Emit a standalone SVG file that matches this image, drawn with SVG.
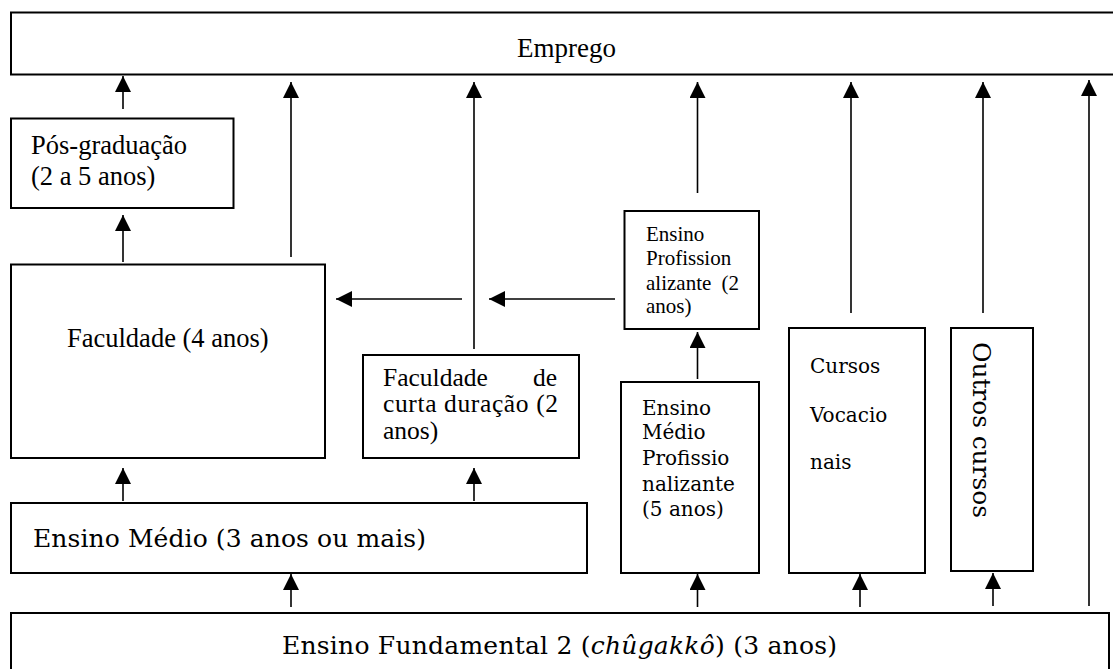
<svg xmlns="http://www.w3.org/2000/svg" width="1113" height="669" viewBox="0 0 1113 669">
<style>
.box{fill:#fff;stroke:#000;stroke-width:2}
.arr{stroke:#000;stroke-width:1.6;fill:none;marker-end:url(#ah)}
</style>
<defs>
<marker id="ah" markerUnits="userSpaceOnUse" markerWidth="16" markerHeight="16" refX="15" refY="7.5" orient="auto" viewBox="0 0 15 15">
<path d="M0,0 L15,7.5 L0,15 z" fill="#000"/>
</marker>
</defs>
<rect width="1113" height="669" fill="#fff"/>

<g id="emprego">
<rect class="box" x="11" y="12.5" width="1110" height="62"/>
<text font-family="Liberation Serif, Times New Roman, serif" x="517" y="57" font-size="27">Emprego</text>
</g>

<g id="pos-graduacao" font-family="Liberation Serif, Times New Roman, serif" font-size="26.5">
<rect class="box" x="11" y="118.5" width="222.5" height="89.5"/>
<text><tspan x="31" y="154">Pós-graduação</tspan><tspan x="31" y="185">(2 a 5 anos)</tspan></text>
</g>

<g id="faculdade" font-family="Liberation Serif, Times New Roman, serif" font-size="26.5">
<rect class="box" x="11" y="264.5" width="314" height="193.5"/>
<text x="67" y="347">Faculdade (4 anos)</text>
</g>

<g id="faculdade-curta" font-family="Liberation Serif, Times New Roman, serif" font-size="25.5">
<rect class="box" x="363" y="355" width="216" height="103"/>
<text><tspan x="383" y="385.5">Faculdade</tspan><tspan x="533" y="385.5">de</tspan><tspan x="383" y="412" textLength="175">curta duração (2</tspan><tspan x="383" y="438.5">anos)</tspan></text>
</g>

<g id="ensino-medio" font-family="DejaVu Serif, Liberation Serif, serif" font-size="25">
<rect class="box" x="11" y="503" width="576" height="70"/>
<text x="33" y="547" textLength="393">Ensino Médio (3 anos ou mais)</text>
</g>

<g id="ensino-profissionalizante" font-family="Liberation Serif, Times New Roman, serif" font-size="21">
<rect class="box" x="624.5" y="211" width="134.5" height="118"/>
<text><tspan x="646" y="241">Ensino</tspan><tspan x="646" y="265">Profission</tspan><tspan x="646" y="290">alizante</tspan><tspan x="721.5" y="290">(2</tspan><tspan x="646" y="313">anos)</tspan></text>
</g>

<g id="ensino-medio-profissionalizante" font-family="DejaVu Serif, Liberation Serif, serif" font-size="20">
<rect class="box" x="621" y="382" width="138" height="191"/>
<text><tspan x="642" y="415">Ensino</tspan><tspan x="642" y="439">Médio</tspan><tspan x="642" y="465">Profissio</tspan><tspan x="642" y="491">nalizante</tspan><tspan x="642" y="516">(5 anos)</tspan></text>
</g>

<g id="cursos-vocacionais" font-family="DejaVu Serif, Liberation Serif, serif" font-size="20">
<rect class="box" x="789" y="328" width="136" height="245"/>
<text><tspan x="810" y="373">Cursos</tspan><tspan x="810" y="422">Vocacio</tspan><tspan x="810" y="469">nais</tspan></text>
</g>

<g id="outros-cursos" font-family="DejaVu Serif, Liberation Serif, serif" font-size="25">
<rect class="box" x="951" y="328" width="82" height="243"/>
<text textLength="176" transform="translate(973,342) rotate(90)">Outros cursos</text>
</g>

<g id="ensino-fundamental" font-family="DejaVu Serif, Liberation Serif, serif" font-size="25">
<rect class="box" x="11" y="613" width="1098" height="70"/>
<text x="282" y="654" textLength="555">Ensino Fundamental 2 (<tspan font-style="italic">chûgakkô</tspan>) (3 anos)</text>
</g>

<g id="connectors">
<line class="arr" x1="123" y1="109" x2="123" y2="76"/>
<line class="arr" x1="123" y1="262" x2="123" y2="215"/>
<line class="arr" x1="291" y1="257" x2="291" y2="82"/>
<line class="arr" x1="474" y1="349" x2="474" y2="82"/>
<line class="arr" x1="697.5" y1="193" x2="697.5" y2="82"/>
<line class="arr" x1="851" y1="313" x2="851" y2="82"/>
<line class="arr" x1="983" y1="313" x2="983" y2="82"/>
<line class="arr" x1="1089" y1="606" x2="1089" y2="80"/>
<line class="arr" x1="462" y1="299" x2="336" y2="299"/>
<line class="arr" x1="615" y1="299" x2="489" y2="299"/>
<line class="arr" x1="123" y1="501" x2="123" y2="468"/>
<line class="arr" x1="474" y1="501" x2="474" y2="468"/>
<line class="arr" x1="291" y1="607" x2="291" y2="574"/>
<line class="arr" x1="697.5" y1="379" x2="697.5" y2="332"/>
<line class="arr" x1="697.5" y1="607" x2="697.5" y2="574"/>
<line class="arr" x1="860" y1="607" x2="860" y2="574"/>
<line class="arr" x1="993" y1="606" x2="993" y2="573"/>
</g>
</svg>
